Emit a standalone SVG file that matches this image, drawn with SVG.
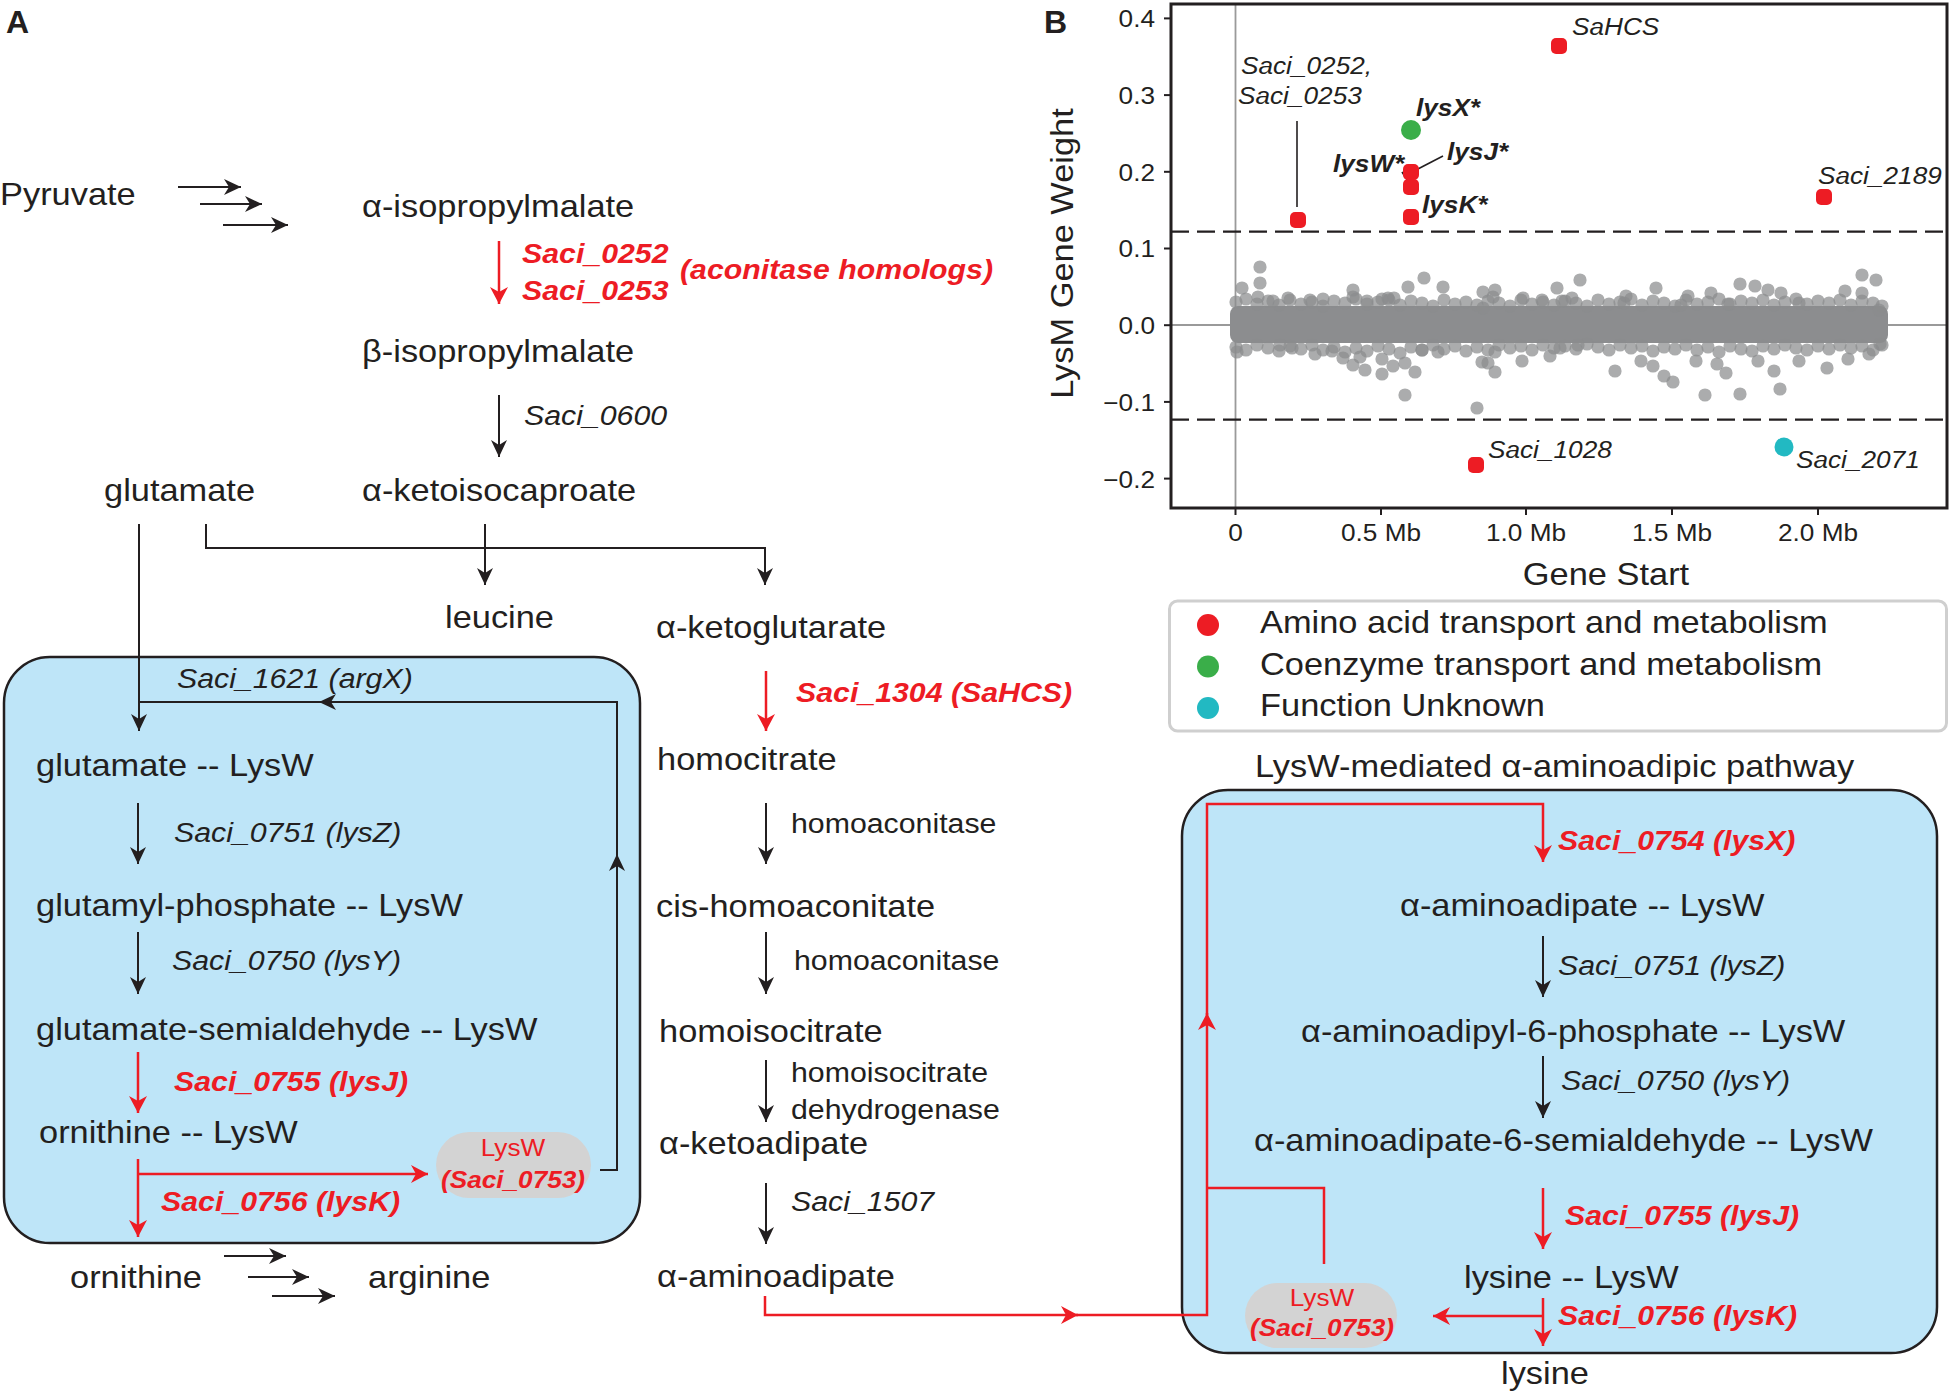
<svg xmlns="http://www.w3.org/2000/svg" width="1955" height="1398" viewBox="0 0 1955 1398">
<style>
text{font-family:"Liberation Sans",Arial,sans-serif;fill:#231F20}
.n{font-size:31px}
.e{font-size:27.3px;font-style:italic}
.h{font-size:27.3px}
.r{font-size:27.3px;font-style:italic;font-weight:bold;fill:#ED1C24}
.pl{font-size:23.6px;fill:#ED1C24}
.pb{font-size:23.6px;font-style:italic;font-weight:bold;fill:#ED1C24}
.tk{font-size:23.6px}
.lb{font-size:23.6px;font-style:italic}
.lbb{font-size:23.6px;font-style:italic;font-weight:bold}
.big{font-size:31px}
.pan{font-size:32px;font-weight:bold}
.ck{stroke:#231F20;stroke-width:2;fill:none}
.cr{stroke:#ED1C24;stroke-width:2.5;fill:none}
.box{fill:#BEE5F8;stroke:#231F20;stroke-width:2.5}
.pill{fill:#D3D3D3}
.dot{fill:#8b8c8e;fill-opacity:0.72}
</style>
<defs>
<marker id="ak" markerUnits="userSpaceOnUse" markerWidth="18" markerHeight="16" refX="17" refY="8" orient="auto" viewBox="0 0 18 16"><path d="M0,0 L17,8 L0,16 L5,8 z" fill="#231F20"/></marker>
<marker id="ar" markerUnits="userSpaceOnUse" markerWidth="18" markerHeight="18" refX="17" refY="9" orient="auto" viewBox="0 0 18 18"><path d="M0,0 L17,9 L0,18 L5,9 z" fill="#ED1C24"/></marker>
</defs>
<rect width="1955" height="1398" fill="#ffffff"/>

<text class="pan" x="6" y="33">A</text>
<text class="pan" x="1044" y="33">B</text>

<!-- boxes -->
<rect id="box-left" class="box" x="4" y="657" width="636" height="586" rx="46"/>
<rect id="box-right" class="box" x="1182" y="790" width="755" height="563" rx="46"/>
<rect id="pill-left" class="pill" x="436" y="1132" width="155" height="66" rx="33"/>
<rect id="pill-right" class="pill" x="1245" y="1283" width="152" height="65" rx="32.5"/>

<g id="connectors">
<path class="ck" d="M178,187 H241" marker-end="url(#ak)"/>
<path class="ck" d="M200,204 H262" marker-end="url(#ak)"/>
<path class="ck" d="M223,225 H288" marker-end="url(#ak)"/>
<path class="cr" d="M499,241 V304" marker-end="url(#ar)"/>
<path class="ck" d="M499,395 V457" marker-end="url(#ak)"/>
<path class="ck" d="M139,524 V731" marker-end="url(#ak)"/>
<path class="ck" d="M206,524 V548 H765 V585" marker-end="url(#ak)"/>
<path class="ck" d="M485,524 V585" marker-end="url(#ak)"/>
<path class="ck" d="M600,1170 H617 V854" marker-end="url(#ak)"/>
<path class="ck" d="M617,856 V702 H319" marker-end="url(#ak)"/>
<path class="ck" d="M321,702 H139"/>
<path class="ck" d="M138,803 V864" marker-end="url(#ak)"/>
<path class="ck" d="M138,932 V994" marker-end="url(#ak)"/>
<path class="cr" d="M138,1052 V1113" marker-end="url(#ar)"/>
<path class="cr" d="M138,1159 V1237" marker-end="url(#ar)"/>
<path class="cr" d="M138,1174 H428" marker-end="url(#ar)"/>
<path class="ck" d="M224,1256 H286" marker-end="url(#ak)"/>
<path class="ck" d="M248,1277 H309" marker-end="url(#ak)"/>
<path class="ck" d="M272,1296 H335" marker-end="url(#ak)"/>
<path class="cr" d="M766,671 V731" marker-end="url(#ar)"/>
<path class="ck" d="M766,803 V864" marker-end="url(#ak)"/>
<path class="ck" d="M766,932 V994" marker-end="url(#ak)"/>
<path class="ck" d="M766,1060 V1122" marker-end="url(#ak)"/>
<path class="ck" d="M766,1183 V1244" marker-end="url(#ak)"/>
<path class="cr" d="M765,1296 V1315 H1078" marker-end="url(#ar)"/>
<path class="cr" d="M1076,1315 H1207 V1013" marker-end="url(#ar)"/>
<path class="cr" d="M1207,1015 V804 H1543 V862" marker-end="url(#ar)"/>
<path class="cr" d="M1207,1188 H1324 V1264"/>
<path class="ck" d="M1543,936 V997" marker-end="url(#ak)"/>
<path class="ck" d="M1543,1056 V1118" marker-end="url(#ak)"/>
<path class="cr" d="M1543,1188 V1249" marker-end="url(#ar)"/>
<path class="cr" d="M1543,1298 V1346" marker-end="url(#ar)"/>
<path class="cr" d="M1543,1316 H1433" marker-end="url(#ar)"/>
</g>

<!-- left column nodes -->
<g id="n-pyruvate"><text class="n" transform="translate(0,205) scale(1.11,1)">Pyruvate</text></g>
<g id="n-aipm"><text class="n" transform="translate(362,217) scale(1.11,1)">α-isopropylmalate</text></g>
<g id="l-aconitase">
<text class="r" transform="translate(522,263) scale(1.11,1)">Saci_0252</text>
<text class="r" transform="translate(522,300) scale(1.11,1)">Saci_0253</text>
<text class="r" transform="translate(680,279) scale(1.11,1)">(aconitase homologs)</text>
</g>
<g id="n-bipm"><text class="n" transform="translate(362,362) scale(1.11,1)">β-isopropylmalate</text></g>
<g id="l-0600"><text class="e" transform="translate(524,425) scale(1.11,1)">Saci_0600</text></g>
<g id="n-glutamate"><text class="n" transform="translate(104,501) scale(1.11,1)">glutamate</text></g>
<g id="n-akic"><text class="n" transform="translate(362,501) scale(1.11,1)">α-ketoisocaproate</text></g>
<g id="n-leucine"><text class="n" transform="translate(445,628) scale(1.11,1)">leucine</text></g>
<g id="n-akg"><text class="n" transform="translate(656,638) scale(1.11,1)">α-ketoglutarate</text></g>
<g id="l-1621"><text class="e" transform="translate(177,688) scale(1.11,1)">Saci_1621 (argX)</text></g>
<g id="n-glu-lysw"><text class="n" transform="translate(36,776) scale(1.11,1)">glutamate -- LysW</text></g>
<g id="l-0751a"><text class="e" transform="translate(174,842) scale(1.11,1)">Saci_0751 (lysZ)</text></g>
<g id="n-glup-lysw"><text class="n" transform="translate(36,916) scale(1.11,1)">glutamyl-phosphate -- LysW</text></g>
<g id="l-0750a"><text class="e" transform="translate(172,970) scale(1.11,1)">Saci_0750 (lysY)</text></g>
<g id="n-glusa-lysw"><text class="n" transform="translate(36,1040) scale(1.11,1)">glutamate-semialdehyde -- LysW</text></g>
<g id="l-0755a"><text class="r" transform="translate(174,1091) scale(1.11,1)">Saci_0755 (lysJ)</text></g>
<g id="n-orn-lysw"><text class="n" transform="translate(39,1143) scale(1.11,1)">ornithine -- LysW</text></g>
<g id="n-lysw-left">
<text class="pl" text-anchor="middle" transform="translate(513,1156) scale(1.11,1)">LysW</text>
<text class="pb" text-anchor="middle" transform="translate(513,1188) scale(1.11,1)">(Saci_0753)</text>
</g>
<g id="l-0756a"><text class="r" transform="translate(161,1211) scale(1.11,1)">Saci_0756 (lysK)</text></g>
<g id="n-ornithine"><text class="n" transform="translate(70,1288) scale(1.11,1)">ornithine</text></g>
<g id="n-arginine"><text class="n" transform="translate(368,1288) scale(1.11,1)">arginine</text></g>

<!-- middle column -->
<g id="l-1304"><text class="r" transform="translate(796,702) scale(1.11,1)">Saci_1304 (SaHCS)</text></g>
<g id="n-homocitrate"><text class="n" transform="translate(657,770) scale(1.11,1)">homocitrate</text></g>
<g id="l-ha1"><text class="h" transform="translate(791,833) scale(1.11,1)">homoaconitase</text></g>
<g id="n-cisha"><text class="n" transform="translate(656,917) scale(1.11,1)">cis-homoaconitate</text></g>
<g id="l-ha2"><text class="h" transform="translate(794,970) scale(1.11,1)">homoaconitase</text></g>
<g id="n-homoisocitrate"><text class="n" transform="translate(659,1042) scale(1.11,1)">homoisocitrate</text></g>
<g id="l-hicdh">
<text class="h" transform="translate(791,1082) scale(1.11,1)">homoisocitrate</text>
<text class="h" transform="translate(791,1119) scale(1.11,1)">dehydrogenase</text>
</g>
<g id="n-akadipate"><text class="n" transform="translate(659,1154) scale(1.11,1)">α-ketoadipate</text></g>
<g id="l-1507"><text class="e" transform="translate(791,1211) scale(1.11,1)">Saci_1507</text></g>
<g id="n-aaa"><text class="n" transform="translate(657,1287) scale(1.11,1)">α-aminoadipate</text></g>

<!-- right pathway -->
<g id="title-right"><text class="n" transform="translate(1255,777) scale(1.11,1)">LysW-mediated α-aminoadipic pathway</text></g>
<g id="l-0754"><text class="r" transform="translate(1558,850) scale(1.11,1)">Saci_0754 (lysX)</text></g>
<g id="n-aaa-lysw"><text class="n" transform="translate(1400,916) scale(1.11,1)">α-aminoadipate -- LysW</text></g>
<g id="l-0751b"><text class="e" transform="translate(1558,975) scale(1.11,1)">Saci_0751 (lysZ)</text></g>
<g id="n-aaap-lysw"><text class="n" transform="translate(1301,1042) scale(1.11,1)">α-aminoadipyl-6-phosphate -- LysW</text></g>
<g id="l-0750b"><text class="e" transform="translate(1561,1090) scale(1.11,1)">Saci_0750 (lysY)</text></g>
<g id="n-aaasa-lysw"><text class="n" transform="translate(1254,1151) scale(1.11,1)">α-aminoadipate-6-semialdehyde -- LysW</text></g>
<g id="l-0755b"><text class="r" transform="translate(1565,1225) scale(1.11,1)">Saci_0755 (lysJ)</text></g>
<g id="n-lys-lysw"><text class="n" transform="translate(1464,1288) scale(1.11,1)">lysine -- LysW</text></g>
<g id="l-0756b"><text class="r" transform="translate(1558,1325) scale(1.11,1)">Saci_0756 (lysK)</text></g>
<g id="n-lysw-right">
<text class="pl" text-anchor="middle" transform="translate(1322,1306) scale(1.11,1)">LysW</text>
<text class="pb" text-anchor="middle" transform="translate(1322,1336) scale(1.11,1)">(Saci_0753)</text>
</g>
<g id="n-lysine"><text class="n" transform="translate(1501,1384) scale(1.11,1)">lysine</text></g>

<!-- plot B -->
<g id="plot">
<line x1="1235.5" y1="4" x2="1235.5" y2="508" stroke="#9a9a9a" stroke-width="1.8"/>
<line x1="1171" y1="325" x2="1947" y2="325" stroke="#9a9a9a" stroke-width="1.8"/>
<g id="scatter">
<rect x="1230" y="306" width="658" height="37" rx="8" fill="#8c8d8f"/>
<g class="dot">
<circle cx="1236" cy="302" r="6.6"/><circle cx="1246" cy="299" r="6.6"/><circle cx="1257" cy="304" r="6.6"/><circle cx="1268" cy="301" r="6.6"/><circle cx="1279" cy="305" r="6.6"/><circle cx="1290" cy="300" r="6.6"/><circle cx="1301" cy="304" r="6.6"/><circle cx="1312" cy="302" r="6.6"/><circle cx="1323" cy="306" r="6.6"/><circle cx="1334" cy="301" r="6.6"/><circle cx="1345" cy="303" r="6.6"/><circle cx="1356" cy="299" r="6.6"/><circle cx="1367" cy="304" r="6.6"/><circle cx="1378" cy="302" r="6.6"/><circle cx="1389" cy="300" r="6.6"/><circle cx="1400" cy="305" r="6.6"/><circle cx="1411" cy="301" r="6.6"/><circle cx="1422" cy="303" r="6.6"/><circle cx="1433" cy="306" r="6.6"/><circle cx="1444" cy="300" r="6.6"/><circle cx="1455" cy="304" r="6.6"/><circle cx="1466" cy="302" r="6.6"/><circle cx="1477" cy="305" r="6.6"/><circle cx="1488" cy="301" r="6.6"/><circle cx="1499" cy="303" r="6.6"/><circle cx="1510" cy="306" r="6.6"/><circle cx="1521" cy="300" r="6.6"/><circle cx="1532" cy="304" r="6.6"/><circle cx="1543" cy="302" r="6.6"/><circle cx="1554" cy="305" r="6.6"/><circle cx="1565" cy="301" r="6.6"/><circle cx="1576" cy="303" r="6.6"/><circle cx="1587" cy="306" r="6.6"/><circle cx="1598" cy="300" r="6.6"/><circle cx="1609" cy="304" r="6.6"/><circle cx="1620" cy="302" r="6.6"/><circle cx="1631" cy="299" r="6.6"/><circle cx="1642" cy="305" r="6.6"/><circle cx="1653" cy="301" r="6.6"/><circle cx="1664" cy="303" r="6.6"/><circle cx="1675" cy="306" r="6.6"/><circle cx="1686" cy="300" r="6.6"/><circle cx="1697" cy="304" r="6.6"/><circle cx="1708" cy="302" r="6.6"/><circle cx="1719" cy="299" r="6.6"/><circle cx="1730" cy="304" r="6.6"/><circle cx="1741" cy="301" r="6.6"/><circle cx="1752" cy="303" r="6.6"/><circle cx="1763" cy="300" r="6.6"/><circle cx="1774" cy="305" r="6.6"/><circle cx="1785" cy="302" r="6.6"/><circle cx="1796" cy="299" r="6.6"/><circle cx="1807" cy="304" r="6.6"/><circle cx="1818" cy="301" r="6.6"/><circle cx="1829" cy="303" r="6.6"/><circle cx="1840" cy="300" r="6.6"/><circle cx="1851" cy="305" r="6.6"/><circle cx="1862" cy="301" r="6.6"/><circle cx="1873" cy="303" r="6.6"/><circle cx="1882" cy="306" r="6.6"/>
<circle cx="1236" cy="347" r="6.6"/><circle cx="1246" cy="350" r="6.6"/><circle cx="1257" cy="345" r="6.6"/><circle cx="1268" cy="348" r="6.6"/><circle cx="1279" cy="351" r="6.6"/><circle cx="1290" cy="346" r="6.6"/><circle cx="1301" cy="349" r="6.6"/><circle cx="1312" cy="345" r="6.6"/><circle cx="1323" cy="350" r="6.6"/><circle cx="1334" cy="347" r="6.6"/><circle cx="1345" cy="352" r="6.6"/><circle cx="1356" cy="348" r="6.6"/><circle cx="1367" cy="351" r="6.6"/><circle cx="1378" cy="346" r="6.6"/><circle cx="1389" cy="349" r="6.6"/><circle cx="1400" cy="353" r="6.6"/><circle cx="1411" cy="347" r="6.6"/><circle cx="1422" cy="350" r="6.6"/><circle cx="1433" cy="345" r="6.6"/><circle cx="1444" cy="349" r="6.6"/><circle cx="1455" cy="346" r="6.6"/><circle cx="1466" cy="351" r="6.6"/><circle cx="1477" cy="347" r="6.6"/><circle cx="1488" cy="350" r="6.6"/><circle cx="1499" cy="345" r="6.6"/><circle cx="1510" cy="348" r="6.6"/><circle cx="1521" cy="346" r="6.6"/><circle cx="1532" cy="350" r="6.6"/><circle cx="1543" cy="345" r="6.6"/><circle cx="1554" cy="348" r="6.6"/><circle cx="1565" cy="346" r="6.6"/><circle cx="1576" cy="349" r="6.6"/><circle cx="1587" cy="344" r="6.6"/><circle cx="1598" cy="347" r="6.6"/><circle cx="1609" cy="350" r="6.6"/><circle cx="1620" cy="345" r="6.6"/><circle cx="1631" cy="348" r="6.6"/><circle cx="1642" cy="346" r="6.6"/><circle cx="1653" cy="351" r="6.6"/><circle cx="1664" cy="347" r="6.6"/><circle cx="1675" cy="349" r="6.6"/><circle cx="1686" cy="345" r="6.6"/><circle cx="1697" cy="350" r="6.6"/><circle cx="1708" cy="347" r="6.6"/><circle cx="1719" cy="352" r="6.6"/><circle cx="1730" cy="346" r="6.6"/><circle cx="1741" cy="349" r="6.6"/><circle cx="1752" cy="351" r="6.6"/><circle cx="1763" cy="346" r="6.6"/><circle cx="1774" cy="349" r="6.6"/><circle cx="1785" cy="345" r="6.6"/><circle cx="1796" cy="348" r="6.6"/><circle cx="1807" cy="350" r="6.6"/><circle cx="1818" cy="346" r="6.6"/><circle cx="1829" cy="349" r="6.6"/><circle cx="1840" cy="345" r="6.6"/><circle cx="1851" cy="348" r="6.6"/><circle cx="1862" cy="346" r="6.6"/><circle cx="1873" cy="350" r="6.6"/><circle cx="1882" cy="345" r="6.6"/>
<circle cx="1260" cy="267" r="6.6"/><circle cx="1260" cy="283" r="6.6"/><circle cx="1258" cy="297" r="6.6"/><circle cx="1242" cy="288" r="6.6"/><circle cx="1353" cy="290" r="6.6"/><circle cx="1353" cy="297" r="6.6"/><circle cx="1408" cy="287" r="6.6"/><circle cx="1424" cy="278" r="6.6"/><circle cx="1443" cy="287" r="6.6"/><circle cx="1388" cy="298" r="6.6"/><circle cx="1483" cy="292" r="6.6"/><circle cx="1495" cy="290" r="6.6"/><circle cx="1493" cy="297" r="6.6"/><circle cx="1483" cy="308" r="6.6"/><circle cx="1523" cy="298" r="6.6"/><circle cx="1557" cy="288" r="6.6"/><circle cx="1580" cy="280" r="6.6"/><circle cx="1572" cy="298" r="6.6"/><circle cx="1288" cy="298" r="6.6"/><circle cx="1273" cy="301" r="6.6"/><circle cx="1310" cy="300" r="6.6"/><circle cx="1323" cy="299" r="6.6"/><circle cx="1367" cy="301" r="6.6"/><circle cx="1382" cy="299" r="6.6"/><circle cx="1394" cy="298" r="6.6"/><circle cx="1542" cy="300" r="6.6"/><circle cx="1562" cy="301" r="6.6"/>
<circle cx="1237" cy="352" r="6.6"/><circle cx="1280" cy="345" r="6.6"/><circle cx="1292" cy="348" r="6.6"/><circle cx="1315" cy="354" r="6.6"/><circle cx="1332" cy="351" r="6.6"/><circle cx="1343" cy="358" r="6.6"/><circle cx="1353" cy="365" r="6.6"/><circle cx="1360" cy="357" r="6.6"/><circle cx="1365" cy="370" r="6.6"/><circle cx="1382" cy="359" r="6.6"/><circle cx="1382" cy="374" r="6.6"/><circle cx="1393" cy="366" r="6.6"/><circle cx="1405" cy="363" r="6.6"/><circle cx="1415" cy="372" r="6.6"/><circle cx="1405" cy="395" r="6.6"/><circle cx="1422" cy="350" r="6.6"/><circle cx="1438" cy="352" r="6.6"/><circle cx="1477" cy="408" r="6.6"/><circle cx="1482" cy="362" r="6.6"/><circle cx="1488" cy="363" r="6.6"/><circle cx="1495" cy="372" r="6.6"/><circle cx="1495" cy="352" r="6.6"/><circle cx="1522" cy="361" r="6.6"/><circle cx="1550" cy="356" r="6.6"/><circle cx="1560" cy="348" r="6.6"/><circle cx="1578" cy="345" r="6.6"/>
<circle cx="1626" cy="296" r="6.6"/><circle cx="1656" cy="288" r="6.6"/><circle cx="1688" cy="296" r="6.6"/><circle cx="1711" cy="293" r="6.6"/><circle cx="1740" cy="284" r="6.6"/><circle cx="1755" cy="286" r="6.6"/><circle cx="1768" cy="290" r="6.6"/><circle cx="1781" cy="293" r="6.6"/><circle cx="1845" cy="291" r="6.6"/><circle cx="1862" cy="275" r="6.6"/><circle cx="1876" cy="280" r="6.6"/><circle cx="1862" cy="293" r="6.6"/><circle cx="1879" cy="310" r="6.6"/><circle cx="1799" cy="303" r="6.6"/><circle cx="1681" cy="305" r="6.6"/><circle cx="1624" cy="303" r="6.6"/><circle cx="1728" cy="304" r="6.6"/>
<circle cx="1615" cy="371" r="6.6"/><circle cx="1641" cy="361" r="6.6"/><circle cx="1653" cy="366" r="6.6"/><circle cx="1664" cy="376" r="6.6"/><circle cx="1673" cy="382" r="6.6"/><circle cx="1696" cy="361" r="6.6"/><circle cx="1705" cy="395" r="6.6"/><circle cx="1717" cy="364" r="6.6"/><circle cx="1726" cy="373" r="6.6"/><circle cx="1740" cy="394" r="6.6"/><circle cx="1758" cy="361" r="6.6"/><circle cx="1774" cy="371" r="6.6"/><circle cx="1780" cy="389" r="6.6"/><circle cx="1799" cy="361" r="6.6"/><circle cx="1827" cy="368" r="6.6"/><circle cx="1848" cy="359" r="6.6"/><circle cx="1869" cy="354" r="6.6"/><circle cx="1880" cy="344" r="6.6"/>
</g>
</g>
<line x1="1171" y1="231.7" x2="1947" y2="231.7" stroke="#231F20" stroke-width="2.2" stroke-dasharray="18 8"/>
<line x1="1171" y1="419.7" x2="1947" y2="419.7" stroke="#231F20" stroke-width="2.2" stroke-dasharray="18 8"/>
<rect x="1171" y="4" width="776" height="504" fill="none" stroke="#231F20" stroke-width="3"/>
<g stroke="#231F20" stroke-width="2">
<line x1="1164" y1="18.4" x2="1171" y2="18.4"/><line x1="1164" y1="95.1" x2="1171" y2="95.1"/><line x1="1164" y1="171.8" x2="1171" y2="171.8"/><line x1="1164" y1="248.5" x2="1171" y2="248.5"/><line x1="1164" y1="325.2" x2="1171" y2="325.2"/><line x1="1164" y1="401.9" x2="1171" y2="401.9"/><line x1="1164" y1="478.6" x2="1171" y2="478.6"/>
<line x1="1235.5" y1="508" x2="1235.5" y2="515"/><line x1="1381" y1="508" x2="1381" y2="515"/><line x1="1526" y1="508" x2="1526" y2="515"/><line x1="1672" y1="508" x2="1672" y2="515"/><line x1="1818" y1="508" x2="1818" y2="515"/>
</g>
<g text-anchor="end">
<text class="tk" transform="translate(1155,27) scale(1.11,1)">0.4</text>
<text class="tk" transform="translate(1155,104) scale(1.11,1)">0.3</text>
<text class="tk" transform="translate(1155,181) scale(1.11,1)">0.2</text>
<text class="tk" transform="translate(1155,257) scale(1.11,1)">0.1</text>
<text class="tk" transform="translate(1155,334) scale(1.11,1)">0.0</text>
<text class="tk" transform="translate(1155,411) scale(1.11,1)">−0.1</text>
<text class="tk" transform="translate(1155,488) scale(1.11,1)">−0.2</text>
</g>
<g text-anchor="middle">
<text class="tk" transform="translate(1235.5,541) scale(1.11,1)">0</text>
<text class="tk" transform="translate(1381,541) scale(1.11,1)">0.5 Mb</text>
<text class="tk" transform="translate(1526,541) scale(1.11,1)">1.0 Mb</text>
<text class="tk" transform="translate(1672,541) scale(1.11,1)">1.5 Mb</text>
<text class="tk" transform="translate(1818,541) scale(1.11,1)">2.0 Mb</text>
<text class="big" transform="translate(1606,585) scale(1.11,1)">Gene Start</text>
<text class="big" transform="translate(1073,253.5) rotate(-90) scale(1.11,1)">LysM Gene Weight</text>
</g>
<g stroke="#231F20" stroke-width="1.6">
<line x1="1297" y1="121" x2="1297" y2="207"/>
<line x1="1443" y1="156" x2="1414" y2="171"/>
<line x1="1402" y1="172" x2="1410" y2="184"/>
</g>
<g id="points">
<rect x="1551" y="38" width="16" height="16" rx="5" fill="#ED1C24"/>
<rect x="1290" y="212" width="16" height="16" rx="5" fill="#ED1C24"/>
<rect x="1403" y="164" width="16" height="16" rx="5" fill="#ED1C24"/>
<rect x="1403" y="179" width="16" height="16" rx="5" fill="#ED1C24"/>
<rect x="1403" y="209" width="16" height="16" rx="5" fill="#ED1C24"/>
<rect x="1816" y="189" width="16" height="16" rx="5" fill="#ED1C24"/>
<rect x="1468" y="457" width="16" height="16" rx="5" fill="#ED1C24"/>
<circle cx="1411" cy="130" r="10" fill="#3AAE49"/>
<circle cx="1784" cy="447" r="9.5" fill="#22B9C2"/>
</g>
<text class="lb" transform="translate(1572,35) scale(1.11,1)">SaHCS</text>
<text class="lb" transform="translate(1241,74) scale(1.11,1)">Saci_0252,</text>
<text class="lb" transform="translate(1238,104) scale(1.11,1)">Saci_0253</text>
<text class="lbb" transform="translate(1416,116) scale(1.11,1)">lysX*</text>
<text class="lbb" transform="translate(1447,160) scale(1.11,1)">lysJ*</text>
<text class="lbb" transform="translate(1333,172) scale(1.11,1)">lysW*</text>
<text class="lbb" transform="translate(1422,213) scale(1.11,1)">lysK*</text>
<text class="lb" transform="translate(1818,184) scale(1.11,1)">Saci_2189</text>
<text class="lb" transform="translate(1488,458) scale(1.11,1)">Saci_1028</text>
<text class="lb" transform="translate(1796,468) scale(1.11,1)">Saci_2071</text>
</g>

<g id="legend">
<rect x="1169.5" y="601" width="777" height="130" rx="8" fill="#ffffff" stroke="#cfcfcf" stroke-width="3"/>
<circle cx="1208" cy="625" r="11" fill="#ED1C24"/>
<circle cx="1208" cy="666.5" r="11" fill="#3AAE49"/>
<circle cx="1208" cy="708" r="11" fill="#22B9C2"/>
<text class="big" transform="translate(1260,633) scale(1.11,1)">Amino acid transport and metabolism</text>
<text class="big" transform="translate(1260,674.5) scale(1.11,1)">Coenzyme transport and metabolism</text>
<text class="big" transform="translate(1260,715.5) scale(1.11,1)">Function Unknown</text>
</g>
</svg>
